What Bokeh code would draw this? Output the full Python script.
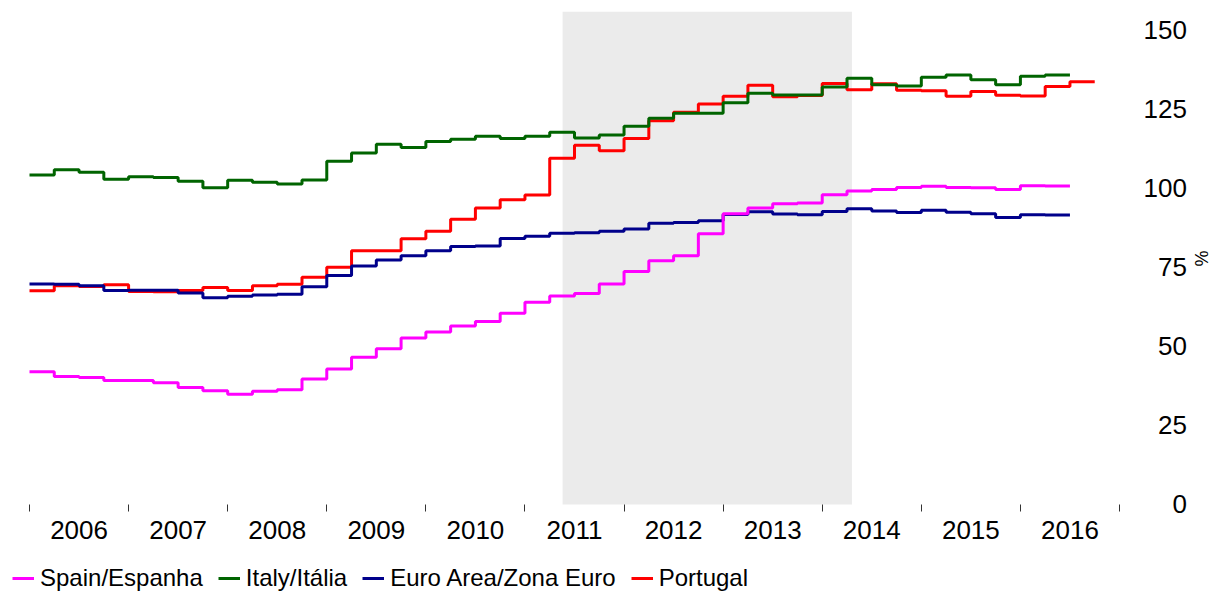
import math
from bokeh.plotting import figure
from bokeh.models import (Range1d, FixedTicker, BoxAnnotation, Legend, LegendItem,
                          CustomJSTickFormatter, Label)
from bokeh.embed import file_html
from bokeh.resources import INLINE

# ---- data (quarterly, % of GDP), first quarter = 2006Q1 ----
start_year = 2006
spain = [42.0, 40.5, 40.2, 39.2,
         39.2, 38.5, 37.0, 36.0,
         34.9, 35.8, 36.3, 39.7,
         42.9, 46.6, 49.3, 52.7,
         54.6, 56.5, 57.9, 60.5,
         64.0, 66.0, 66.8, 69.8,
         73.7, 77.1, 78.7, 85.7,
         92.0, 93.8, 95.2, 95.4,
         98.0, 99.2, 99.7, 100.3,
         100.7, 100.3, 100.2, 99.7,
         100.9, 100.8]
italy = [104.3, 105.9, 105.1, 102.9,
         103.7, 103.5, 102.3, 100.2,
         102.6, 102.0, 101.4, 102.7,
         108.6, 111.2, 114.0, 113.0,
         114.9, 115.6, 116.5, 115.8,
         116.5, 117.8, 116.0, 116.9,
         119.7, 122.2, 123.8, 123.8,
         127.1, 130.1, 129.6, 129.6,
         132.1, 134.9, 132.8, 132.4,
         135.2, 135.9, 134.4, 132.8,
         135.5, 135.9]
euro_area = [69.8, 69.7, 69.2, 67.7,
             67.8, 67.8, 66.9, 65.4,
             65.9, 66.3, 66.5, 68.9,
             72.5, 75.5, 77.4, 78.7,
             80.3, 81.6, 81.8, 84.2,
             84.9, 85.8, 86.0, 86.5,
             87.2, 89.0, 89.2, 89.8,
             91.8, 92.6, 91.9, 91.7,
             92.7, 93.6, 92.9, 92.4,
             93.1, 92.5, 92.0, 90.8,
             91.7, 91.6]
portugal = [67.6, 69.2, 69.0, 69.5,
            67.4, 67.3, 67.7, 68.7,
            67.7, 69.2, 69.7, 71.9,
            75.1, 80.3, 80.3, 84.1,
            86.5, 90.3, 93.8, 96.4,
            97.9, 109.6, 113.7, 111.9,
            115.8, 121.4, 124.1, 126.7,
            129.2, 132.7, 129.0, 129.4,
            133.2, 131.2, 133.1, 131.1,
            130.9, 129.2, 130.7, 129.5,
            129.3, 132.3, 133.8]
year_labels = list(range(2006, 2017))
y_ticks = [0, 25, 50, 75, 100, 125, 150]
programme_start = 2011.38   # Portugal adjustment programme
programme_end = 2014.30

names = ["Spain/Espanha", "Italy/Itália", "Euro Area/Zona Euro", "Portugal"]
colors = ["#FF00FF", "#006400", "#00008B", "#FF0000"]


def step_xy(vals):
    xs = [start_year + 0.25 * i for i in range(len(vals) + 1)]
    ys = list(vals) + [vals[-1]]
    return xs, ys


FONT = "Liberation Sans"
FSP = "\u2007"  # figure space (digit width) -> right-aligned tick labels

# The plotting frame covers the whole canvas; axes sit at fixed positions
# (x axis at y=0, y axis at the end of 2016) so that the legend can sit
# underneath the year labels.
p = figure(width=1209, height=594,
           x_range=Range1d(2005.8284, 2017.9083), y_range=Range1d(-28.48, 156),
           y_axis_location="right",
           output_backend="svg", toolbar_location=None,
           min_border_left=12, min_border_top=11,
           min_border_right=0, min_border_bottom=0)
p.grid.visible = False
p.outline_line_color = None
p.background_fill_color = "white"

p.add_layout(BoxAnnotation(left=programme_start, right=programme_end, bottom=0,
                           fill_color="#EBEBEB", fill_alpha=1.0,
                           line_color=None, level="underlay"))

renderers = {}
series = {"Spain/Espanha": spain, "Italy/Itália": italy,
          "Euro Area/Zona Euro": euro_area, "Portugal": portugal}
color_of = dict(zip(names, colors))
for nm in ["Portugal", "Euro Area/Zona Euro", "Italy/Itália", "Spain/Espanha"]:
    xs, ys = step_xy(series[nm])
    renderers[nm] = p.step(xs, ys, mode="after", line_width=3, color=color_of[nm])

# x axis: tick marks at year boundaries, labels centred on each year
xa = p.xaxis[0]
xa.fixed_location = 0
xa.ticker = FixedTicker(ticks=[y + 0.5 for y in year_labels],
                        minor_ticks=list(range(2006, 2018)))
xa.formatter = CustomJSTickFormatter(code="return String(Math.floor(tick));")
xa.axis_line_color = None
xa.major_tick_line_color = None
xa.major_tick_out = 0
xa.major_tick_in = 0
xa.minor_tick_line_color = "#333333"
xa.minor_tick_line_width = 1
xa.minor_tick_out = 7
xa.minor_tick_in = 0
xa.major_label_standoff = 10
xa.major_label_text_font = FONT
xa.major_label_text_font_size = "26px"
xa.major_label_text_color = "black"

ya = p.yaxis[0]
ya.fixed_location = year_labels[-1] + 1
ya.ticker = FixedTicker(ticks=y_ticks)
ya.axis_line_color = None
ya.major_tick_line_color = None
ya.minor_tick_line_color = None
ya.major_tick_out = 0
ya.major_tick_in = 0
ya.major_label_standoff = 24
ya.major_label_text_font = FONT
ya.major_label_text_font_size = "26px"
ya.major_label_text_color = "black"
ya.major_label_overrides = {t: FSP * (3 - len(str(t))) + str(t) for t in y_ticks}

# unit label of the y axis
p.add_layout(Label(x=1188, y=336, x_units="screen", y_units="screen", text="%",
                   angle=-math.pi / 2, text_align="center", text_baseline="middle",
                   text_font=FONT, text_font_size="18px", text_color="black"))

legend = Legend(items=[LegendItem(label=nm, renderers=[renderers[nm]]) for nm in names],
                orientation="horizontal", location=(0, 2),
                label_text_font=FONT, label_text_font_size="24px",
                label_text_color="black",
                glyph_width=22, glyph_height=20, label_standoff=6, spacing=15,
                padding=0, margin=0, border_line_color=None,
                background_fill_alpha=0)
p.add_layout(legend)

open("out.html", "w").write(file_html(p, INLINE))
